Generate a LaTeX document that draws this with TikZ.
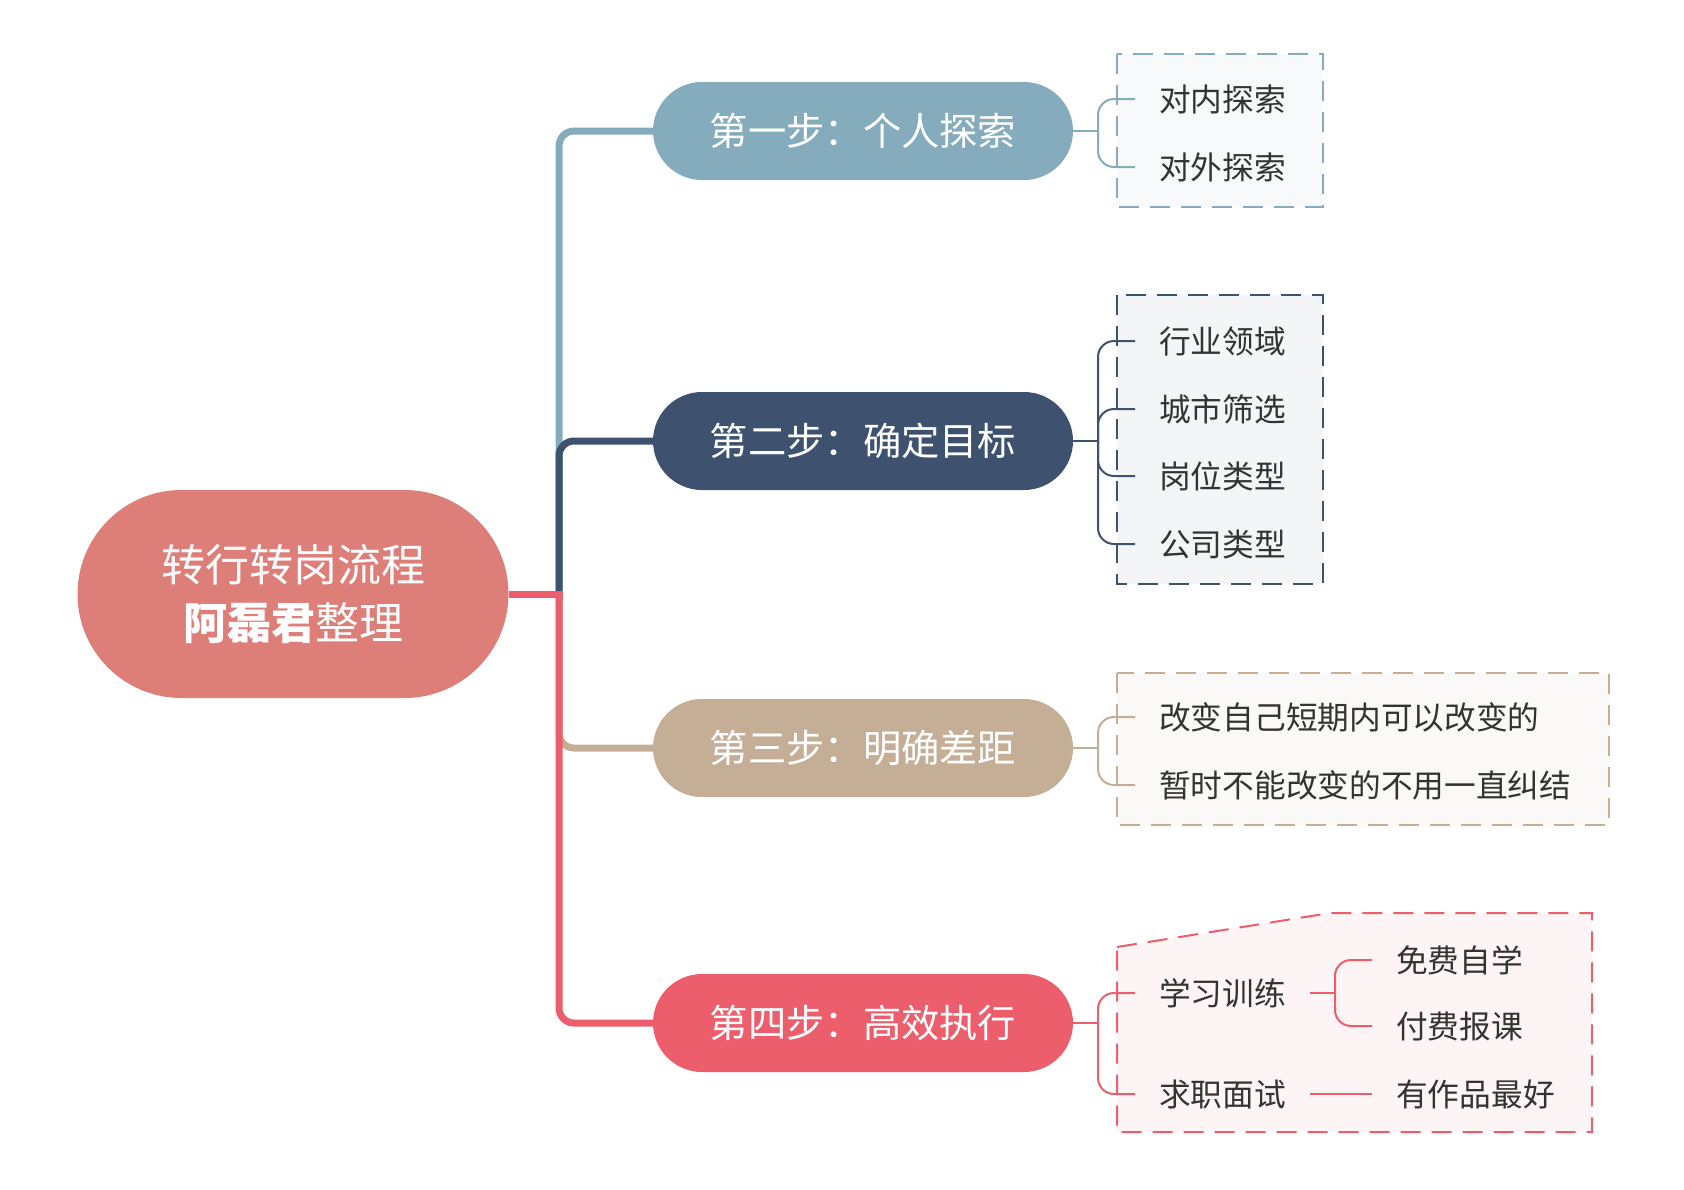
\documentclass[tikz,border=0pt]{standalone}
\usepackage{fontspec}
\setmainfont{Noto Sans CJK SC}
\usepackage{tikz}
\usetikzlibrary{calc,positioning}
\definecolor{cone}{HTML}{85ACBD}
\definecolor{ctwo}{HTML}{3E5270}
\definecolor{cthree}{HTML}{C5AE96}
\definecolor{cfour}{HTML}{EC5E6C}
\definecolor{croot}{HTML}{DE7E78}
\definecolor{ctext}{HTML}{333333}
\tikzstyle{rootnode} = [rectangle, rounded corners=104pt, minimum width=431pt, minimum height=208pt, align=center, fill=croot, text=white, font=\fontsize{44}{58}\selectfont]
\tikzstyle{stepnode} = [rectangle, rounded corners=49pt, minimum width=420pt, minimum height=98pt, text centered, text=white, text height=33.6pt, text depth=4.6pt, font=\fontsize{38.3}{38.3}\selectfont]
\tikzstyle{itemnode} = [anchor=west, inner xsep=24pt, inner ysep=0pt, text=ctext, text height=27.9pt, text depth=3.8pt, font=\fontsize{31.7}{31.7}\selectfont]
\tikzstyle{trunk} = [line width=7pt, rounded corners=15pt]
\tikzstyle{twig} = [line width=2pt, rounded corners=16pt]
\tikzstyle{box} = [line width=2pt, dash pattern=on 20pt off 11pt]

\begin{document}
\begin{tikzpicture}[x=1pt, y=-1pt]
\useasboundingbox (0,0) rectangle (1684,1189);

\draw [box, draw=cone, fill={rgb,255:red,247;green,249;blue,250}] (1117,54) rectangle (1323,207);
\draw [box, draw=ctwo, fill={rgb,255:red,244;green,245;blue,247}] (1117,295) rectangle (1323,584);
\draw [box, draw=cthree, fill={rgb,255:red,250;green,249;blue,247}] (1117,673) rectangle (1609,825);
\draw [box, draw=cfour, fill={rgb,255:red,253;green,244;blue,245}] (1117,947) -- (1330,913) -- (1592,913) -- (1592,1132) -- (1117,1132) -- cycle;

\node (root) [rootnode] at (293,594) {转行转岗流程\\{\bfseries 阿磊君}整理};
\node (first) [stepnode, fill=cone] at (863,131) {第一步：个人探索};
\node (second) [stepnode, fill=ctwo] at (863,441) {第二步：确定目标};
\node (third) [stepnode, fill=cthree] at (863,748) {第三步：明确差距};
\node (fourth) [stepnode, fill=cfour] at (863,1023) {第四步：高效执行};

\node (inner) [itemnode] at (1135,99) {对内探索};
\node (outer) [itemnode] at (1135,167) {对外探索};
\node (field) [itemnode] at (1135,341) {行业领域};
\node (city) [itemnode] at (1135,409) {城市筛选};
\node (post) [itemnode] at (1135,476) {岗位类型};
\node (firm) [itemnode] at (1135,544) {公司类型};
\node (change) [itemnode] at (1135,717) {改变自己短期内可以改变的};
\node (accept) [itemnode] at (1135,785) {暂时不能改变的不用一直纠结};
\node (train) [itemnode] at (1135,993) {学习训练};
\node (job) [itemnode] at (1135,1094) {求职面试};
\node (free) [itemnode] at (1372,960) {免费自学};
\node (paid) [itemnode] at (1372,1026) {付费报课};
\node (works) [itemnode] at (1372,1094) {有作品最好};

\coordinate (hub) at (559,594);
\coordinate (kone) at (1098,131);
\coordinate (ktwo) at (1098,441);
\coordinate (kthree) at (1098,748);
\coordinate (kfour) at (1098,1023);
\coordinate (ktrain) at (1335,993);

\draw [trunk, cone] (hub) |- (first.west);
\draw [trunk, ctwo] (hub) |- (second.west);
\draw [trunk, cthree] (hub) |- (third.west);
\draw [trunk, cfour] (hub) |- (fourth.west);
\draw [trunk, cfour] (root.east) -- ($(hub)+(3.5,0)$);

\draw [twig, cone] (first.east) -- (kone);
\draw [twig, cone] (kone) |- (inner.west);
\draw [twig, cone] (kone) |- (outer.west);
\draw [twig, ctwo] (second.east) -- (ktwo);
\foreach \n in {field, city, post, firm}
  \draw [twig, ctwo] (ktwo) |- (\n.west);
\draw [twig, cthree] (third.east) -- (kthree);
\draw [twig, cthree] (kthree) |- (change.west);
\draw [twig, cthree] (kthree) |- (accept.west);
\draw [twig, cfour] (fourth.east) -- (kfour);
\draw [twig, cfour] (kfour) |- (train.west);
\draw [twig, cfour] (kfour) |- (job.west);
\draw [twig, cfour] (train.east) -- (ktrain);
\draw [twig, cfour] (ktrain) |- (free.west);
\draw [twig, cfour] (ktrain) |- (paid.west);
\draw [twig, cfour] (job.east) -- (works.west);

\end{tikzpicture}
\end{document}
